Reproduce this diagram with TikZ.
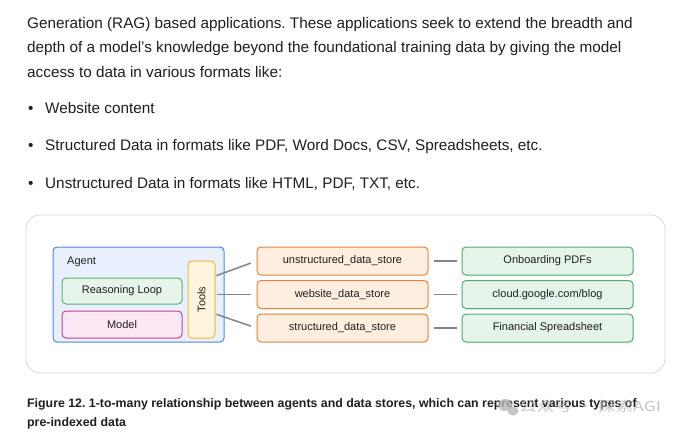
\documentclass[tikz,border=0pt]{standalone}
\usepackage{fontspec}
\setmainfont{Liberation Sans}
\newfontfamily\cjk{Noto Sans CJK SC}[FakeStretch=1.3]
\usepackage{tikz}
\usetikzlibrary{positioning, calc, shadows}
\frenchspacing
\definecolor{bodyText}{HTML}{1F1F1F}
\definecolor{frameGray}{HTML}{D6D8DB}
\definecolor{agentBlue}{HTML}{4A86E8}
\definecolor{agentFill}{HTML}{E8F0FE}
\definecolor{loopGreen}{HTML}{5BAF6E}
\definecolor{loopFill}{HTML}{E6F4EA}
\definecolor{modelPink}{HTML}{C93C92}
\definecolor{modelFill}{HTML}{FCE8F4}
\definecolor{toolsYellow}{HTML}{F2B53A}
\definecolor{toolsFill}{HTML}{FEF5DC}
\definecolor{storeOrange}{HTML}{E8823A}
\definecolor{storeFill}{HTML}{FDEEE0}
\definecolor{sourceGreen}{HTML}{4CAF6E}
\definecolor{sourceFill}{HTML}{E5F3E8}
\definecolor{linkGray}{HTML}{7F868C}
\definecolor{markGray}{HTML}{B8B8B8}

\begin{document}
\begin{tikzpicture}[x=1pt,y=-1pt,
    para/.style={anchor=base west,inner sep=0pt,text=bodyText,font=\fontsize{15.3}{17}\selectfont},
    caption/.style={anchor=base west,inner sep=0pt,text=bodyText,font=\fontsize{12.35}{14}\selectfont\bfseries},
    box/.style={rectangle,rounded corners=4pt,line width=1pt,minimum width=171pt,minimum height=28pt,
                inner sep=0pt,text=bodyText,font=\fontsize{11}{13}\selectfont},
    store/.style={box,draw=storeOrange,fill=storeFill},
    source/.style={box,draw=sourceGreen,fill=sourceFill,drop shadow={opacity=0.12,shadow xshift=1pt,shadow yshift=-1.5pt}},
    link/.style={line width=1.5pt,draw=linkGray}
]
    \useasboundingbox[fill=white] (0,0) rectangle (680,439);

    % Text above
    \node[para] (line1) at (27,28) {Generation (RAG) based applications. These applications seek to extend the breadth and};
    \node[para] (line2) at (27,52.5) {depth of a model’s knowledge beyond the foundational training data by giving the model};
    \node[para] (line3) at (27,77) {access to data in various formats like:};
    \foreach \y/\txt in {113/Website content,
                        150.5/{Structured Data in formats like PDF, Word Docs, CSV, Spreadsheets, etc.},
                        188/{Unstructured Data in formats like HTML, PDF, TXT, etc.}} {
        \node[para] at (28,\y) {•};
        \node[para] at (45,\y) {\txt};
    }

    % Frame
    \draw[frameGray,line width=0.8pt,rounded corners=14pt] (26,215) rectangle (665,373);

    % Agent
    \node[box,draw=agentBlue,fill=agentFill,minimum width=171pt,minimum height=95pt] (agent) at (138.5,294.5) {};
    \node[anchor=west,inner sep=0pt,text=bodyText,font=\fontsize{11}{13}\selectfont] (agentLabel) at (67,262) {Agent};
    \node[box,draw=loopGreen,fill=loopFill,minimum width=120pt,minimum height=26pt] (loop) at (122,291) {Reasoning Loop};
    \node[box,draw=modelPink,fill=modelFill,minimum width=120pt,minimum height=27pt] (model) at (122,324.5) {Model};
    \node[box,draw=toolsYellow,fill=toolsFill,minimum width=27pt,minimum height=77pt] (tools) at (201.5,299.5) {};
    \node[rotate=90,inner sep=0pt,text=bodyText,font=\fontsize{11}{13}\selectfont] (toolsLabel) at (tools.center) {Tools};

    % Data stores
    \node[store] (unstructured) at (342.5,261) {unstructured\_data\_store};
    \node[store] (website) at (342.5,294.5) {website\_data\_store};
    \node[store] (structured) at (342.5,328) {structured\_data\_store};

    % Sources
    \node[source] (pdfs) at (547.5,261) {Onboarding PDFs};
    \node[source] (blog) at (547.5,294.5) {cloud.google.com/blog};
    \node[source] (sheet) at (547.5,328) {Financial Spreadsheet};

    % Links
    \draw[link,shorten <=1pt,shorten >=6pt] ([yshift=23.5pt]tools.east) -- (unstructured.west);
    \draw[link,shorten <=1pt,shorten >=6pt] ([yshift=5pt]tools.east) -- (website.west);
    \draw[link,shorten <=1pt,shorten >=6pt] ([yshift=-14.5pt]tools.east) -- (structured.west);
    \draw[link,shorten <=5pt,shorten >=5pt] (unstructured.east) -- (pdfs.west);
    \draw[link,shorten <=5pt,shorten >=5pt] (website.east) -- (blog.west);
    \draw[link,shorten <=5pt,shorten >=5pt] (structured.east) -- (sheet.west);

    % Caption
    \node[caption] (cap1) at (27,407.5) {Figure 12. 1-to-many relationship between agents and data stores, which can represent various types of};
    \node[caption] (cap2) at (27,426) {pre-indexed data};

    % Watermark
    \fill[markGray,opacity=0.8] (505,405) ellipse (7pt and 6pt);
    \fill[markGray,opacity=0.8] (513,411) ellipse (5.5pt and 4.5pt);
    \node[anchor=base west,inner sep=0pt,text=markGray,opacity=0.8,font=\cjk\fontsize{13.6}{16}\selectfont] (mark) at (519,411) {公众号 · 探索AGI};
\end{tikzpicture}
\end{document}
